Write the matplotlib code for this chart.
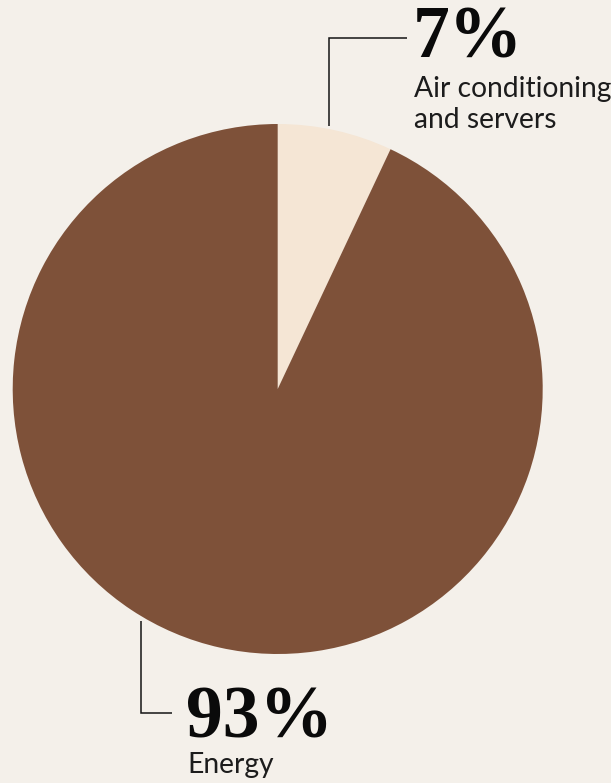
import matplotlib
matplotlib.use("Agg")
import matplotlib.pyplot as plt

# Share of data-centre footprint
shares = [7, 93]
labels = ["Air conditioning\nand servers", "Energy"]
pct_labels = ["7%", "93%"]
colors = ["#F5E6D5", "#7E5139"]

BG = "#F4F0EA"
INK = "#1c1c1c"
W, H = 611, 783

fig = plt.figure(figsize=(W / 100, H / 100), dpi=100, facecolor=BG)
ax = fig.add_axes([0, 0, 1, 1])
ax.set_facecolor(BG)

def py(y):
    # pixel row (from top) -> data y
    return H - y

ax.pie(shares, colors=colors, startangle=90, counterclock=False,
       center=(277.7, py(389)), radius=265, frame=True,
       wedgeprops=dict(linewidth=0))
ax.set_xlim(0, W)
ax.set_ylim(0, H)
ax.set_aspect("equal")
ax.axis("off")

# leader lines
lw = 1.1
ax.plot([328.7, 328.7, 406.7], [py(126), py(38.3), py(38.3)],
        color="#141414", lw=lw, solid_capstyle="butt", solid_joinstyle="miter")
ax.plot([140.7, 140.7, 172], [py(621), py(713), py(713)],
        color="#141414", lw=lw, solid_capstyle="butt", solid_joinstyle="miter")

serif = dict(family=["Liberation Serif", "DejaVu Serif"], weight="bold",
             color="#0a0a0a", fontsize=53)
sans = dict(family=["Lato", "DejaVu Sans"], weight="normal", color=INK,
            fontsize=20.3)

ax.text(413, py(57), pct_labels[0], ha="left", va="baseline", **serif)
ax.text(414, py(97), labels[0].split("\n")[0], ha="left", va="baseline", **sans)
ax.text(414, py(128), labels[0].split("\n")[1], ha="left", va="baseline", **sans)

ax.text(186, py(737), pct_labels[1], ha="left", va="baseline", **serif)
ax.text(187, py(773), labels[1], ha="left", va="baseline", **sans)

fig.savefig("out.png", dpi=100, facecolor=BG)
